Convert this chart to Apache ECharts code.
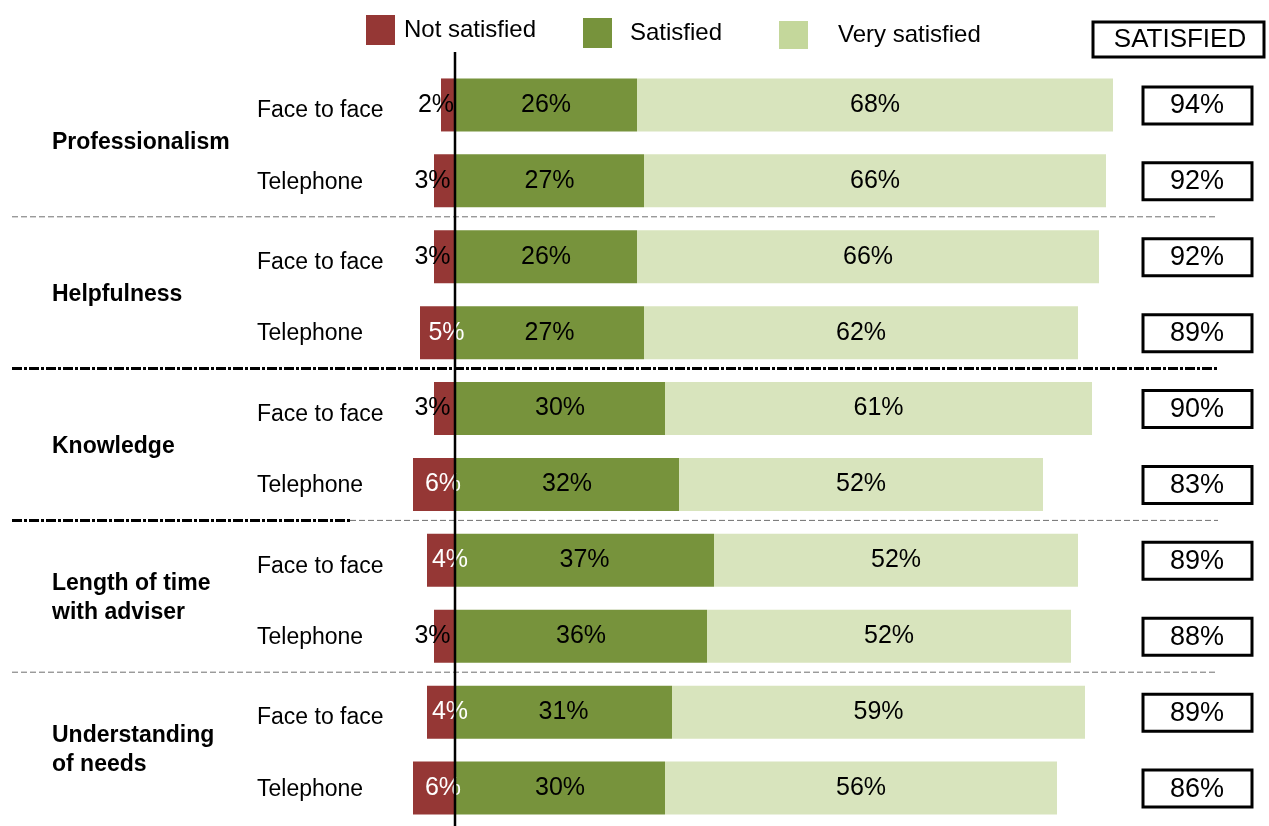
<!DOCTYPE html>
<html>
<head>
<meta charset="utf-8">
<script src="https://cdn.jsdelivr.net/npm/echarts@6/dist/echarts.min.js"></script>
<style>
  html, body { margin: 0; padding: 0; background: #fff; }
  #chart { width: 1269px; height: 826px; }
</style>
</head>
<body>
<div id="chart"></div>
<script>
// Survey results: satisfaction with advisers by aspect and channel
const channels = ['Face to face', 'Telephone', 'Face to face', 'Telephone', 'Face to face',
                  'Telephone', 'Face to face', 'Telephone', 'Face to face', 'Telephone'];
const aspects = ['Professionalism', 'Helpfulness', 'Knowledge',
                 'Length of time\nwith adviser', 'Understanding\nof needs'];
const notSatisfied = [2, 3, 3, 5, 3, 6, 4, 3, 4, 6];
const satisfied = [26, 27, 26, 27, 30, 32, 37, 36, 31, 30];
const verySatisfied = [68, 66, 66, 62, 61, 52, 52, 52, 59, 56];
const satisfiedTotal = [94, 92, 92, 89, 90, 83, 89, 88, 89, 86];

const FONT = '"Liberation Sans", Arial, sans-serif';
const RED = '#953735';
const GREEN = '#77933C';
const PALE = '#D8E4BD';

const chart = echarts.init(document.getElementById('chart'), null, { renderer: 'canvas' });

const pctLabel = {
  show: true,
  position: 'inside',
  color: '#000',
  fontFamily: FONT,
  fontSize: 25,
  formatter: p => Math.abs(p.value) + '%'
};

const legendBase = {
  padding: 0, itemWidth: 29, itemHeight: 30, icon: 'rect', selectedMode: false
};
const legendText = { fontSize: 24, fontFamily: FONT, color: '#000' };

const option = {
  animation: false,
  backgroundColor: '#fff',
  textStyle: { fontFamily: FONT },
  grid: { left: 385, right: 114, top: 67, bottom: 0, containLabel: false },
  legend: [
    Object.assign({}, legendBase, {
      data: [{ name: 'Not satisfied', itemStyle: { color: RED } }],
      left: 366, top: 15,
      textStyle: Object.assign({}, legendText, { padding: [0, 0, 0, 4] })
    }),
    Object.assign({}, legendBase, {
      data: [{ name: 'Satisfied', itemStyle: { color: GREEN } }],
      left: 583, top: 18,
      textStyle: Object.assign({}, legendText, { padding: [0, 0, 0, 13] })
    }),
    Object.assign({}, legendBase, {
      data: [{ name: 'Very satisfied', itemStyle: { color: '#C4D79B' } }],
      left: 779, top: 21, itemHeight: 28,
      textStyle: Object.assign({}, legendText, { padding: [0, 0, 0, 25] })
    })
  ],
  xAxis: {
    type: 'value', min: -10, max: 100, show: false
  },
  yAxis: [
    {
      type: 'category', data: channels, inverse: true,
      axisLine: { show: false, onZero: false }, axisTick: { show: false },
      splitLine: { show: false },
      axisLabel: {
        align: 'left', margin: 128, color: '#000',
        fontFamily: FONT, fontSize: 23,
        formatter: (v, i) => (i % 2 === 0 ? '{f|' : '{t|') + v + '}',
        rich: {
          f: { fontFamily: FONT, fontSize: 23, color: '#000', padding: [12, 0, 0, 0] },
          t: { fontFamily: FONT, fontSize: 23, color: '#000', padding: [3, 0, 0, 0] }
        }
      }
    },
    {
      type: 'category', data: aspects, inverse: true, position: 'left',
      axisLine: { show: false, onZero: false }, axisTick: { show: false },
      splitLine: { show: false },
      axisLabel: {
        align: 'left', margin: 333, color: '#000',
        fontFamily: FONT, fontSize: 23, fontWeight: 'bold', lineHeight: 29
      }
    }
  ],
  series: [
    {
      name: 'Not satisfied', type: 'bar', stack: 'total', barWidth: 53,
      itemStyle: { color: RED },
      label: pctLabel,
      data: notSatisfied.map(v => ({
        value: -v,
        label: { color: v >= 4 ? '#fff' : '#000', offset: [v >= 4 ? 9 : -12, 0] }
      }))
    },
    {
      name: 'Satisfied', type: 'bar', stack: 'total', barWidth: 53,
      itemStyle: { color: GREEN },
      label: pctLabel,
      data: satisfied
    },
    {
      name: 'Very satisfied', type: 'bar', stack: 'total', barWidth: 53,
      itemStyle: { color: PALE },
      label: pctLabel,
      data: verySatisfied
    },
    {
      // "SATISFIED" total column, drawn in boxes to the right of each bar
      name: 'Total', type: 'custom', clip: false,
      data: satisfiedTotal.map((v, i) => [0, i, v]),
      encode: { x: 0, y: 1 },
      renderItem: (params, api) => {
        const y = api.coord([0, api.value(1)])[1];
        return {
          type: 'group',
          children: [
            { type: 'rect', shape: { x: 1143, y: y - 18, width: 109, height: 37 },
              style: { fill: '#fff', stroke: '#000', lineWidth: 3 } },
            { type: 'text',
              style: { text: api.value(2) + '%', x: 1197, y: y + 1, align: 'center',
                       verticalAlign: 'middle', font: '27px ' + FONT, fill: '#000' } }
          ]
        };
      }
    }
  ]
};

chart.setOption(option);

// Separators between aspect groups, the zero line and the column header
const yAt = i => chart.convertToPixel({ yAxisIndex: 0 }, i);
const between = (a, b) => (yAt(a) + yAt(b)) / 2 - 2;
const x0 = chart.convertToPixel({ xAxisIndex: 0 }, 0);

const thinDash = { stroke: '#6f6f6f', lineWidth: 1, lineDash: [6, 3] };
const thickDash = { stroke: '#000', lineWidth: 3, lineDash: [10, 2, 3, 2] };

const hLine = (y, x1, x2, style) => ({
  type: 'line', z: 50, silent: true,
  shape: { x1: x1, y1: y, x2: x2, y2: y }, style: style
});

chart.setOption({
  graphic: [
    hLine(between(1, 2), 12, 1218, thinDash),
    hLine(between(3, 4), 12, 1218, thickDash),
    hLine(between(5, 6), 350, 1218, thinDash),
    hLine(between(5, 6), 12, 350, thickDash),
    hLine(between(7, 8), 12, 1218, thinDash),
    {
      type: 'line', z: 100, silent: true,
      shape: { x1: x0, y1: 52, x2: x0, y2: 826 },
      style: { stroke: '#000', lineWidth: 2.5 }
    },
    {
      type: 'rect', z: 100, silent: true,
      shape: { x: 1093, y: 22, width: 171, height: 35 },
      style: { fill: '#fff', stroke: '#000', lineWidth: 3 }
    },
    {
      type: 'text', z: 101, silent: true,
      style: { text: 'SATISFIED', x: 1180, y: 40, align: 'center', verticalAlign: 'middle',
               font: '26px ' + FONT, fill: '#000' }
    }
  ]
});
</script>
</body>
</html>
